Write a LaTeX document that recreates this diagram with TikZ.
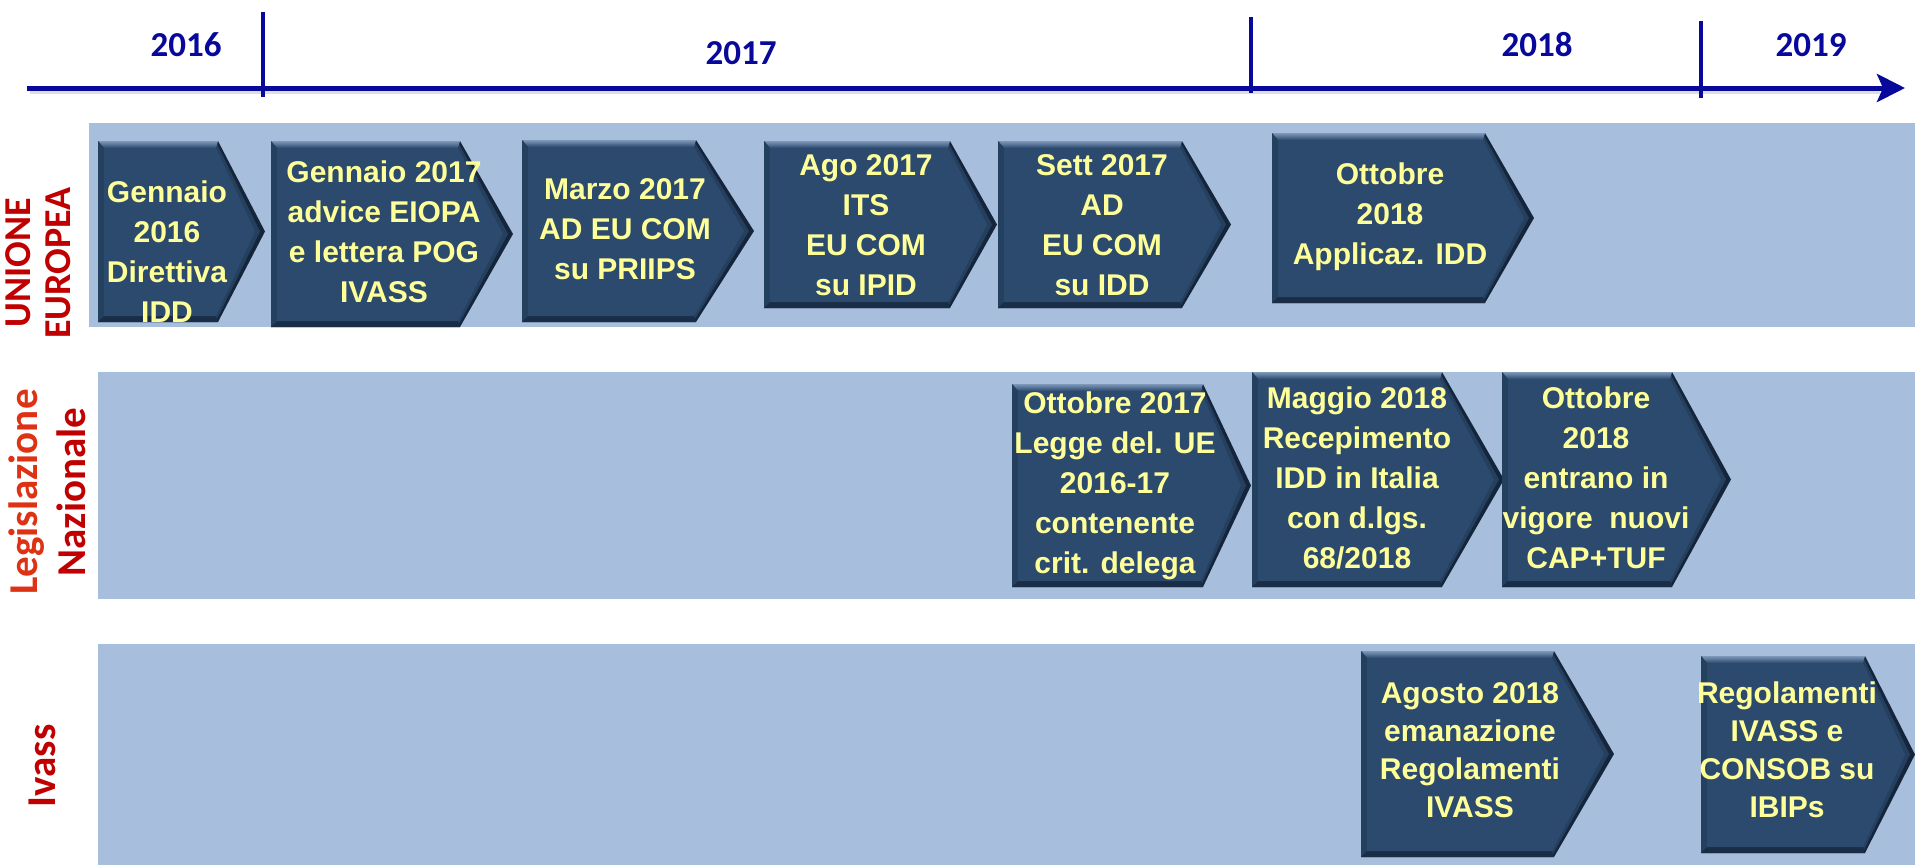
\documentclass[tikz,border=0pt]{standalone}
\usepackage{fontspec}
\setmainfont{Liberation Sans}
\newfontfamily\calfont{Carlito}
\usetikzlibrary{arrows.meta}
\definecolor{bandblue}{HTML}{A7BFDD}
\definecolor{face}{HTML}{2C4A6E}
\definecolor{edgedark}{HTML}{15253C}
\definecolor{bevtop}{HTML}{7E98BA}
\definecolor{bevleft}{HTML}{24405F}
\definecolor{bevbot}{HTML}{1A2D47}
\definecolor{boxyellow}{HTML}{FFFF99}
\definecolor{navy}{HTML}{08089A}
\definecolor{darkred}{HTML}{C00000}
\definecolor{legred}{HTML}{DE3214}
\tikzset{
  band/.style={fill=bandblue, draw=none},
  boxtext/.style={text=boxyellow, font=\bfseries\fontsize{30}{40}\selectfont, align=center, inner sep=0pt},
  boxtextb/.style={boxtext, font=\bfseries\fontsize{30}{38}\selectfont},
  year/.style={text=navy, font=\calfont\bfseries\fontsize{35}{40}\selectfont, inner sep=0pt},
  side/.style={text=darkred, font=\calfont\bfseries\fontsize{38}{40}\selectfont, align=center, inner sep=0pt, rotate=90},
  sidebig/.style={side, font=\calfont\bfseries\fontsize{41}{48}\selectfont},
  axisline/.style={draw=navy, line width=5pt},
  tick/.style={draw=navy, line width=4pt},
  shadowline/.style={draw=black!25, line width=4pt, opacity=0.5}
}
\newcommand\chev[5]{%
  \pgfmathsetmacro\chevmid{(#2+#5)/2}
  \fill[edgedark] (#1,#2) -- (#3,#2) -- (#4,\chevmid) -- (#3,#5) -- (#1,#5) -- cycle;
  \fill[face!70!edgedark] (#1+3,#2+3) -- (#3-1,#2+3) -- (#4-5,\chevmid) -- (#3-1,#5-3) -- (#1+3,#5-3) -- cycle;
  \shade[top color=bevtop, bottom color=face] (#1,#2) -- (#3,#2) -- (#3-2,#2+7) -- (#1+6,#2+7) -- cycle;
  \fill[bevleft] (#1,#2) -- (#1+6,#2+7) -- (#1+6,#5-6) -- (#1,#5) -- cycle;
  \fill[bevbot] (#1,#5) -- (#1+6,#5-6) -- (#3-2,#5-6) -- (#3,#5) -- cycle;
  \fill[face] (#1+6,#2+7) -- (#3-2,#2+7) -- (#4-10,\chevmid) -- (#3-2,#5-6) -- (#1+6,#5-6) -- cycle;
}
\begin{document}
\begin{tikzpicture}[x=1pt,y=-1pt]
\useasboundingbox (0,0) rectangle (1915,865);
\fill[white] (0,0) rectangle (1915,865);
% timeline
\coordinate (axs) at (27,88);
\coordinate (axe) at (1905,88);
\coordinate (axss) at (30,92);
\coordinate (axes) at (1880,92);
\draw[shadowline] (axss) -- (axes);
\draw[axisline, -{Stealth[length=28pt,width=28pt,inset=6pt]}] (axs) -- (axe);
\coordinate (t1a) at (263,12); \coordinate (t1b) at (263,97);
\coordinate (t2a) at (1251,17); \coordinate (t2b) at (1251,93);
\coordinate (t3a) at (1701,21); \coordinate (t3b) at (1701,98);
\draw[tick] (t1a) -- (t1b);
\draw[tick] (t2a) -- (t2b);
\draw[tick] (t3a) -- (t3b);
\node[year] (y16) at (186,45) {2016};
\node[year] (y17) at (741,53) {2017};
\node[year] (y18) at (1537,45) {2018};
\node[year] (y19) at (1811,45) {2019};
% bands
\fill[band] (89,123) rectangle (1915,327);
\fill[band] (98,372) rectangle (1915,599);
\fill[band] (98,644) rectangle (1915,865);
% side labels
\node[side] (ue) at (38,263) {UNIONE\\EUROPEA};
\node[sidebig] (ln) at (47,492) {\textcolor{legred}{Legislazione}\\Nazionale};
\node[sidebig] (iv) at (42,766) {Ivass};
% band 1
\chev{98}{141}{218}{265}{322}
\chev{271}{141}{460}{513}{327}
\chev{522}{140}{696}{754}{322}
\chev{764}{141}{950}{997}{308}
\chev{998}{141}{1182}{1231}{308}
\chev{1272}{133}{1485}{1534}{303}
\node[boxtext] (e1) at (167,252) {Gennaio\\2016\\Direttiva\\IDD};
\node[boxtext] (e2) at (384,232) {Gennaio 2017\\advice EIOPA\\e lettera POG\\IVASS};
\node[boxtext] (e3) at (625,229) {Marzo 2017\\AD EU COM\\su PRIIPS};
\node[boxtext] (e4) at (866,225) {Ago 2017\\ITS\\EU COM\\su IPID};
\node[boxtext] (e5) at (1102,225) {Sett 2017\\AD\\EU COM\\su IDD};
\node[boxtext] (e6) at (1390,217) {Ottobre\\2018\\Applicaz. IDD};
% band 2
\chev{1012}{384}{1203}{1251}{587}
\chev{1252}{372}{1442}{1504}{587}
\chev{1502}{372}{1672}{1731}{587}
\node[boxtext] (n1) at (1115,486) {Ottobre 2017\\Legge del. UE\\2016-17\\contenente\\crit. delega};
\node[boxtext] (n2) at (1357,478) {Maggio 2018\\Recepimento\\IDD in Italia\\con d.lgs.\\68/2018};
\node[boxtext] (n3) at (1596,478) {Ottobre\\2018\\entrano in\\vigore\ \ nuovi\\CAP+TUF};
% band 3
\chev{1361}{651}{1554}{1614}{857}
\chev{1701}{656}{1865}{1915}{853}
\node[boxtextb] (i1) at (1470,750) {Agosto 2018\\emanazione\\Regolamenti\\IVASS};
\node[boxtextb] (i2) at (1787,750) {Regolamenti\\IVASS e\\CONSOB su\\IBIPs};
\end{tikzpicture}
\end{document}
